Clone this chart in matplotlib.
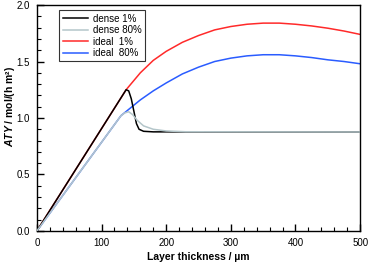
import matplotlib
matplotlib.use("Agg")
import matplotlib.pyplot as plt
from matplotlib.ticker import MultipleLocator

plt.rcParams["font.family"] = ["Liberation Sans", "DejaVu Sans"]
plt.rcParams["mathtext.fontset"] = "custom"
plt.rcParams["mathtext.bfit"] = "Liberation Sans:italic:bold"
plt.rcParams["mathtext.rm"] = "Liberation Sans"

# values
dense1_x = [0, 138, 142, 146, 150, 154, 158, 165, 180, 500]
dense1_y = [0, 1.25, 1.24, 1.17, 1.06, 0.95, 0.90, 0.882, 0.877, 0.876]

dense80_x = [0, 130, 136, 142, 148, 155, 165, 180, 200, 230, 500]
dense80_y = [0, 1.02, 1.045, 1.055, 1.03, 0.98, 0.93, 0.90, 0.885, 0.878, 0.876]

ideal1_x = [0, 138, 160, 180, 200, 225, 250, 275, 300, 325, 350, 375, 400, 425, 450, 475, 500]
ideal1_y = [0, 1.25, 1.40, 1.51, 1.59, 1.67, 1.73, 1.78, 1.81, 1.83, 1.84, 1.84, 1.83, 1.815, 1.795, 1.77, 1.74]

ideal80_x = [0, 130, 160, 180, 200, 225, 250, 275, 300, 325, 350, 375, 400, 425, 450, 475, 500]
ideal80_y = [0, 1.02, 1.16, 1.24, 1.31, 1.39, 1.45, 1.50, 1.53, 1.55, 1.56, 1.56, 1.55, 1.535, 1.515, 1.50, 1.48]

fig = plt.figure(figsize=(3.69, 2.66), dpi=100)
ax = fig.add_axes([0.100, 0.132, 0.876, 0.849])

ax.plot(ideal1_x, ideal1_y, color="#ff2a2a", lw=1.1, label="ideal  1%", zorder=2)
ax.plot(ideal80_x, ideal80_y, color="#2a5cff", lw=1.1, label="ideal  80%", zorder=2)
ax.plot(dense1_x, dense1_y, color="black", lw=1.1, label="dense 1%", zorder=3)
ax.plot(dense80_x, dense80_y, color="#b4c6ca", lw=1.1, label="dense 80%", zorder=4)

ax.set_xlim(0, 500)
ax.set_ylim(0, 2.0)
ax.xaxis.set_major_locator(MultipleLocator(100))
ax.xaxis.set_minor_locator(MultipleLocator(20))
ax.yaxis.set_major_locator(MultipleLocator(0.5))
ax.yaxis.set_minor_locator(MultipleLocator(0.1))
ax.yaxis.set_major_formatter(matplotlib.ticker.FormatStrFormatter("%.1f"))
ax.tick_params(which="both", direction="in", top=False, right=False, labelsize=7, pad=5)
ax.tick_params(which="major", length=5, width=1)
ax.tick_params(which="minor", length=3, width=0.8)
for s in ax.spines.values():
    s.set_linewidth(1)

ax.set_xlabel("Layer thickness / µm", fontsize=7.5, fontweight="bold", labelpad=3)
fig.text(3 / 369, 0.60, r"$\mathbfit{ATY}$ / mol/(h m²)", fontsize=7.5, fontweight="bold",
         rotation=90, ha="left", va="center")

h, l = ax.get_legend_handles_labels()
order = [2, 3, 0, 1]
leg = ax.legend([h[i] for i in order], [l[i] for i in order], loc="upper left",
                bbox_to_anchor=(0.06, 0.99), fontsize=7, frameon=True, fancybox=False,
                edgecolor="black", handlelength=2.6, handletextpad=0.5,
                borderpad=0.35, labelspacing=0.15, borderaxespad=0.3)
leg.get_frame().set_linewidth(0.8)

fig.savefig("out.png", dpi=100)
